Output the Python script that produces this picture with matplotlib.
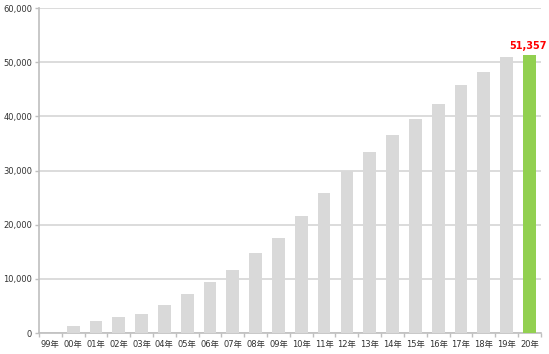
import matplotlib
matplotlib.use("Agg")
import matplotlib.pyplot as plt
from matplotlib.ticker import FuncFormatter, FixedLocator

categories = ["99年", "00年", "01年", "02年", "03年", "04年", "05年", "06年", "07年", "08年", "09年",
              "10年", "11年", "12年", "13年", "14年", "15年", "16年", "17年", "18年", "19年", "20年"]
values = [0, 1400, 2300, 3050, 3550, 5150, 7150, 9430, 11640, 14800, 17500,
          21560, 25850, 30000, 33500, 36500, 39600, 42300, 45800, 48200, 50900, 51357]

plt.rcParams['font.family'] = ['DejaVu Sans', 'Noto Sans CJK JP']

fig = plt.figure(figsize=(5.49, 3.54), dpi=100)
ax = fig.add_axes([0.071, 0.059, 0.914, 0.918])

gray = "#d9d9d9"
green = "#92d050"
colors = [gray] * (len(values) - 1) + [green]
x = list(range(len(values)))
ax.bar(x, values, width=0.56, color=colors, zorder=3)

ax.set_xlim(-0.5, len(values) - 0.5)
ax.set_ylim(0, 60000)
ax.set_yticks(range(0, 60001, 10000))
ax.yaxis.set_major_formatter(FuncFormatter(lambda v, p: f"{int(v):,}"))
ax.yaxis.grid(True, color="#d9d9d9", linewidth=1.3, zorder=0)

ax.set_xticks(x)
ax.set_xticklabels(categories)
ax.xaxis.set_minor_locator(FixedLocator([i - 0.5 for i in range(len(values) + 1)]))
ax.tick_params(axis='x', which='major', length=0, labelsize=6, colors="#333333", pad=5)
ax.tick_params(axis='x', which='minor', length=3, color="#bfbfbf", width=1)
ax.tick_params(axis='y', length=3, color="#bfbfbf", labelsize=6, labelcolor="#333333", width=1, pad=2)

for s in ['top', 'right']:
    ax.spines[s].set_visible(False)
for s in ['left', 'bottom']:
    ax.spines[s].set_color("#bfbfbf")
    ax.spines[s].set_linewidth(1.2)

ax.annotate(f"{values[-1]:,}", xy=(x[-1], values[-1]), xytext=(-1, 3), textcoords="offset points",
            ha='center', va='bottom', color="#ff0000", fontsize=7, fontweight='bold')

fig.savefig("out.png", dpi=100)
